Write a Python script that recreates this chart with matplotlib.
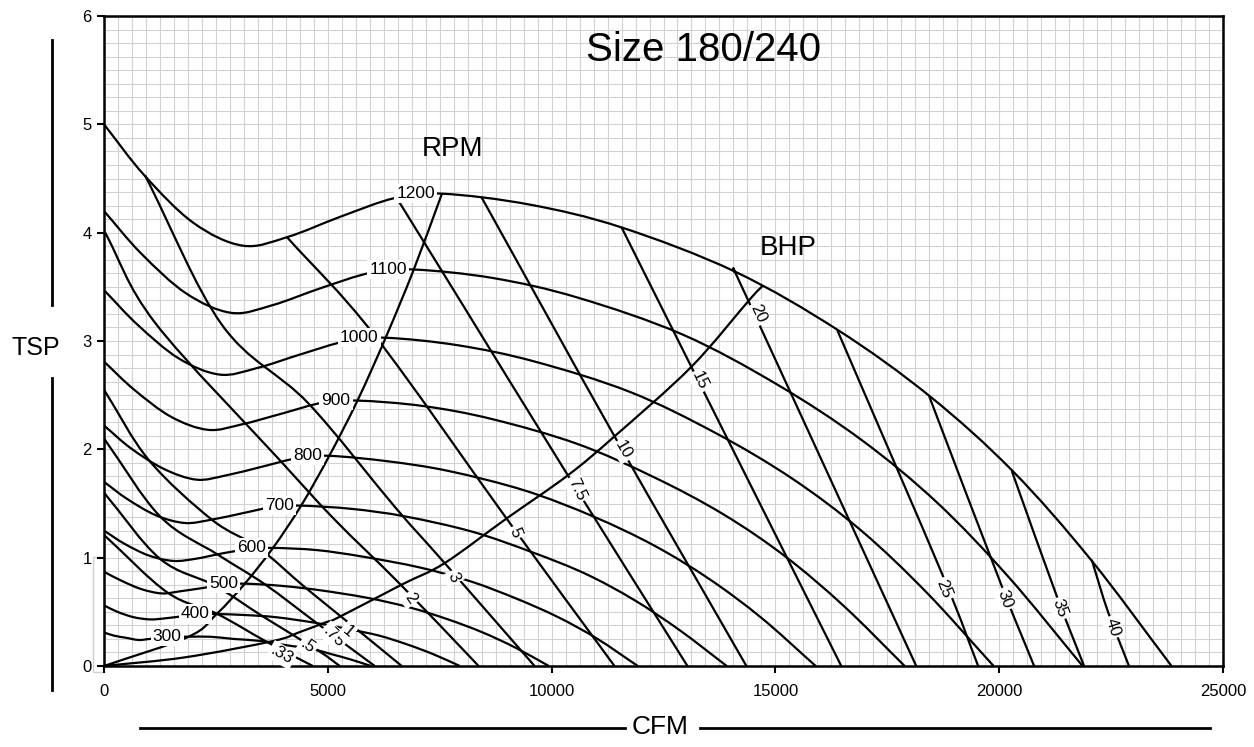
import numpy as np
import matplotlib
matplotlib.use('Agg')
import matplotlib.pyplot as plt
from matplotlib.path import Path
from matplotlib.patches import PathPatch, Rectangle
from matplotlib.lines import Line2D
from matplotlib.ticker import MultipleLocator

plt.rcParams['font.family'] = ['Liberation Sans', 'DejaVu Sans']

# ---------------------------------------------------------------
# Curvas de RPM (CFM x TSP)
# ---------------------------------------------------------------
cfm_1200 = [0, 900, 2000, 3100, 4100, 5300, 6500, 7550, 9500, 11550, 14100, 16400, 18450, 20300, 22050, 23850]
tsp_1200 = [5.00, 4.53, 4.09, 3.88, 3.96, 4.15, 4.32, 4.36, 4.26, 4.05, 3.64, 3.10, 2.49, 1.80, 0.98, 0]
cfm_1100 = [0, 825, 1833, 2842, 3758, 4858, 5958, 6921, 8708, 10588, 12925, 15033, 16913, 18608, 20213, 21863]
tsp_1100 = [4.20, 3.81, 3.44, 3.26, 3.33, 3.49, 3.63, 3.66, 3.58, 3.40, 3.06, 2.60, 2.09, 1.51, 0.82, 0]
cfm_1000 = [0, 750, 1667, 2583, 3417, 4417, 5417, 6292, 7917, 9625, 11750, 13667, 15375, 16917, 18375, 19875]
tsp_1000 = [3.47, 3.15, 2.84, 2.69, 2.75, 2.88, 3.00, 3.03, 2.96, 2.81, 2.53, 2.15, 1.73, 1.25, 0.68, 0]
cfm_900 = [0, 675, 1500, 2325, 3075, 3975, 4875, 5663, 7125, 8663, 10575, 12300, 13838, 15225, 16538, 17888]
tsp_900 = [2.81, 2.55, 2.30, 2.18, 2.23, 2.33, 2.43, 2.45, 2.40, 2.28, 2.05, 1.74, 1.40, 1.01, 0.55, 0]
cfm_800 = [0, 600, 1333, 2067, 2733, 3533, 4333, 5033, 6333, 7700, 9400, 10933, 12300, 13533, 14700, 15900]
tsp_800 = [2.22, 2.01, 1.82, 1.72, 1.76, 1.84, 1.92, 1.94, 1.89, 1.80, 1.62, 1.38, 1.11, 0.80, 0.44, 0]
cfm_700 = [0, 525, 1167, 1808, 2392, 3092, 3792, 4404, 5542, 6738, 8225, 9567, 10763, 11842, 12863, 13913]
tsp_700 = [1.70, 1.54, 1.39, 1.32, 1.35, 1.41, 1.47, 1.48, 1.45, 1.38, 1.24, 1.05, 0.85, 0.61, 0.33, 0]
cfm_600 = [0, 450, 1000, 1550, 2050, 2650, 3250, 3775, 4750, 5775, 7050, 8200, 9225, 10150, 11025, 11925]
tsp_600 = [1.25, 1.13, 1.02, 0.97, 0.99, 1.04, 1.08, 1.09, 1.07, 1.01, 0.91, 0.78, 0.62, 0.45, 0.25, 0]
cfm_500 = [0, 375, 833, 1292, 1708, 2208, 2708, 3146, 3958, 4813, 5875, 6833, 7688, 8458, 9188, 9938]
tsp_500 = [0.87, 0.79, 0.71, 0.67, 0.69, 0.72, 0.75, 0.76, 0.74, 0.70, 0.63, 0.54, 0.43, 0.31, 0.17, 0]
cfm_400 = [0, 300, 667, 1033, 1367, 1767, 2167, 2517, 3167, 3850, 4700, 5467, 6150, 6767, 7350, 7950]
tsp_400 = [0.56, 0.50, 0.45, 0.43, 0.44, 0.46, 0.48, 0.48, 0.47, 0.45, 0.40, 0.34, 0.28, 0.20, 0.11, 0]
cfm_300 = [0, 225, 500, 775, 1025, 1325, 1625, 1888, 2375, 2888, 3525, 4100, 4613, 5075, 5513, 5963]
tsp_300 = [0.31, 0.28, 0.26, 0.24, 0.25, 0.26, 0.27, 0.27, 0.27, 0.25, 0.23, 0.19, 0.16, 0.11, 0.06, 0]

# linha das etiquetas de RPM (limite de stall)
stall_cfm = [0, 1888, 2517, 3146, 3775, 4404, 5033, 5663, 6292, 6921, 7550]
stall_tsp = [0, 0.27, 0.48, 0.76, 1.09, 1.48, 1.94, 2.45, 3.03, 3.66, 4.36]

# ---------------------------------------------------------------
# Linhas de BHP
# ---------------------------------------------------------------
cfm_bhp_033 = [0, 1412, 2533, 3648, 4665]
tsp_bhp_033 = [1.21, 0.68, 0.48, 0.22, 0]
cfm_bhp_05 = [0, 1250, 2488, 3540, 4794, 5268]
tsp_bhp_05 = [1.60, 0.99, 0.74, 0.46, 0.14, 0]
cfm_bhp_075 = [0, 1255, 2534, 3609, 4741, 6049]
tsp_bhp_075 = [2.10, 1.38, 1.03, 0.75, 0.40, 0]
cfm_bhp_1 = [0, 1004, 2411, 3460, 4509, 5736, 6651]
tsp_bhp_1 = [2.55, 1.90, 1.35, 1.09, 0.72, 0.31, 0]
cfm_bhp_2 = [0, 1138, 3928, 5156, 6629, 8370]
tsp_bhp_2 = [4.02, 3.17, 1.90, 1.35, 0.75, 0]
cfm_bhp_3 = [915, 2634, 4553, 6495, 7611, 9620]
tsp_bhp_3 = [4.53, 3.15, 2.43, 1.47, 0.95, 0]
cfm_bhp_5 = [4085, 6049, 8995, 11405]
tsp_bhp_5 = [3.96, 3.05, 1.36, 0]
cfm_bhp_75 = [6540, 7946, 10363, 13035]
tsp_bhp_75 = [4.32, 3.38, 1.76, 0]
cfm_bhp_10 = [8430, 11406, 14352]
tsp_bhp_10 = [4.33, 2.12, 0]
cfm_bhp_15 = [11562, 13124, 16472]
tsp_bhp_15 = [4.05, 2.76, 0]
cfm_bhp_20 = [14084, 14419, 18146]
tsp_bhp_20 = [3.64, 3.35, 0]
cfm_bhp_25 = [16383, 18734, 19530]
tsp_bhp_25 = [3.10, 0.84, 0]
cfm_bhp_30 = [18436, 20036, 20780]
tsp_bhp_30 = [2.49, 0.76, 0]
cfm_bhp_35 = [20282, 21264, 21896]
tsp_bhp_35 = [1.80, 0.67, 0]
cfm_bhp_40 = [22067, 22431, 22900]
tsp_bhp_40 = [0.98, 0.50, 0]

# curva das etiquetas de BHP (pontos onde cada etiqueta fica)
bhp_labels = ['.33', '.5', '.75', '1', '2', '3', '5', '7.5', '10', '15', '20']
bhp_lab_cfm = [3772, 4352, 4933, 5245, 6645, 7611, 8988, 10363, 11406, 13118, 14419]
bhp_lab_tsp = [0.23, 0.31, 0.40, 0.45, 0.75, 0.95, 1.36, 1.76, 2.12, 2.76, 3.38]
bhp_curve_cfm = [0, 1808] + bhp_lab_cfm + [14716]
bhp_curve_tsp = [0, 0.08] + bhp_lab_tsp + [3.51]

bhp_hi_labels = ['25', '30', '35', '40']

# ---------------------------------------------------------------
def smooth_path(xs, ys):
    # curva suavizada (Catmull-Rom -> Bezier), como a linha suave do Excel
    p = np.column_stack([xs, ys]).astype(float)
    if len(p) < 3:
        return Path(p)
    t = np.zeros_like(p)
    t[1:-1] = (p[2:] - p[:-2]) / 2
    t[0] = p[1] - p[0]
    t[-1] = p[-1] - p[-2]
    verts, codes = [p[0]], [Path.MOVETO]
    for i in range(len(p) - 1):
        verts += [p[i] + t[i] / 3, p[i + 1] - t[i + 1] / 3, p[i + 1]]
        codes += [Path.CURVE4] * 3
    return Path(verts, codes)


def curve(ax, xs, ys, lw=1.6):
    ax.add_patch(PathPatch(smooth_path(xs, ys), fc='none', ec='black', lw=lw, zorder=3))


W, H = 1254, 747
fig = plt.figure(figsize=(W / 100, H / 100), dpi=100)
ax = fig.add_axes([104 / W, 1 - 666 / H, (1223 - 104) / W, (666 - 16) / H])
ax.set_xlim(0, 25000)
ax.set_ylim(0, 6)

# grade
ax.set_xticks(range(0, 25001, 5000))
ax.set_yticks(range(0, 7))
ax.xaxis.set_minor_locator(MultipleLocator(312.5))
ax.yaxis.set_minor_locator(MultipleLocator(0.125))
ax.grid(which='both', color='#d2d2d2', lw=0.8)
ax.set_axisbelow(True)
ax.tick_params(which='minor', length=0)
ax.tick_params(which='major', direction='out', length=5, width=1.5, labelsize=12)
ax.tick_params(axis='x', pad=8)
ax.tick_params(axis='y', pad=4)
for s in ax.spines.values():
    s.set_linewidth(1.8)

rpm_curves = [(1200, cfm_1200, tsp_1200), (1100, cfm_1100, tsp_1100), (1000, cfm_1000, tsp_1000),
              (900, cfm_900, tsp_900), (800, cfm_800, tsp_800), (700, cfm_700, tsp_700),
              (600, cfm_600, tsp_600), (500, cfm_500, tsp_500), (400, cfm_400, tsp_400),
              (300, cfm_300, tsp_300)]
for rpm, xs, ys in rpm_curves:
    curve(ax, xs, ys)

bhp_lines = [(cfm_bhp_033, tsp_bhp_033), (cfm_bhp_05, tsp_bhp_05), (cfm_bhp_075, tsp_bhp_075),
             (cfm_bhp_1, tsp_bhp_1), (cfm_bhp_2, tsp_bhp_2), (cfm_bhp_3, tsp_bhp_3),
             (cfm_bhp_5, tsp_bhp_5), (cfm_bhp_75, tsp_bhp_75), (cfm_bhp_10, tsp_bhp_10),
             (cfm_bhp_15, tsp_bhp_15), (cfm_bhp_20, tsp_bhp_20), (cfm_bhp_25, tsp_bhp_25),
             (cfm_bhp_30, tsp_bhp_30), (cfm_bhp_35, tsp_bhp_35), (cfm_bhp_40, tsp_bhp_40)]
for xs, ys in bhp_lines:
    curve(ax, xs, ys)

curve(ax, stall_cfm, stall_tsp)
curve(ax, bhp_curve_cfm, bhp_curve_tsp)

box = dict(boxstyle='square,pad=0.12', fc='white', ec='none')

# etiquetas de RPM, a esquerda da linha de stall
for (rpm, xs, ys), sx, sy in zip(rpm_curves, stall_cfm[:0:-1], stall_tsp[:0:-1]):
    ax.annotate(str(rpm), xy=(sx, sy), xytext=(-5, 0), textcoords='offset points',
                ha='right', va='center', fontsize=12.5, bbox=box, zorder=6)

# etiquetas de BHP
rot_lo = [-30, -35, -45, -40, -55, -65, -68, -65, -60, -65, -65]
for txt, x, y, r in zip(bhp_labels, bhp_lab_cfm, bhp_lab_tsp, rot_lo):
    ax.annotate(txt, xy=(x, y), xytext=(6.5, -10), textcoords='offset points',
                ha='center', va='center', rotation=r, rotation_mode='anchor',
                fontsize=12, bbox=box, zorder=6)

hi_pos = [(18771, 0.71), (20133, 0.62), (21360, 0.53), (22543, 0.36)]
rot_hi = [-68, -70, -70, -72]
for txt, (x, y), r in zip(bhp_hi_labels, hi_pos, rot_hi):
    ax.text(x, y, txt, ha='center', va='center', rotation=r, rotation_mode='anchor',
            fontsize=12, bbox=box, zorder=6)

# textos
fig.text(704 / W, 1 - 50 / H, 'Size 180/240', ha='center', va='center', fontsize=29)
fig.text(453 / W, 1 - 149 / H, 'RPM', ha='center', va='center', fontsize=20)
fig.text(788 / W, 1 - 248 / H, 'BHP', ha='center', va='center', fontsize=20)
fig.text(36 / W, 1 - 348 / H, 'TSP', ha='center', va='center', fontsize=18)
fig.text(660 / W, 1 - 727 / H, 'CFM', ha='center', va='center', fontsize=19)

# linhas decorativas dos eixos
for x0, y0, x1, y1 in [(52, 40, 52, 305), (52, 378, 52, 690), (140, 728, 625, 728), (700, 728, 1210, 728)]:
    fig.add_artist(Line2D([x0 / W, x1 / W], [1 - y0 / H, 1 - y1 / H], color='black', lw=2))

fig.add_artist(Rectangle((93 / W, 1 - 672 / H), 11 / W, 115 / H, fill=False, ec='#d0d0d0', lw=1, zorder=0))

fig.savefig('out.png', dpi=100)
